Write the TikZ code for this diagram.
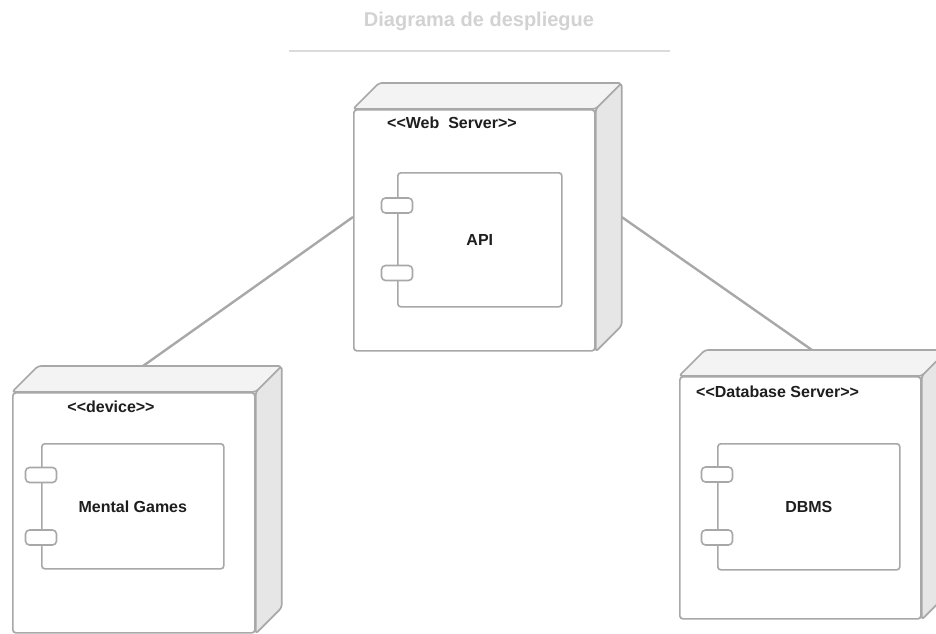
\documentclass[tikz,border=0pt]{standalone}
\usepackage{fontspec}
\setmainfont{Liberation Sans}
\usetikzlibrary{calc,backgrounds}
\definecolor{edgec}{HTML}{A8A8A8}
\definecolor{topf}{HTML}{F3F3F3}
\definecolor{sidef}{HTML}{E6E6E6}
\definecolor{titlec}{HTML}{D2D2D2}
\definecolor{txtc}{HTML}{1E1E1E}
\tikzset{
  front/.style={draw=edgec, line width=1.7pt, fill=white, rounded corners=3pt, inner sep=0pt, anchor=north west},
  face/.style={draw=edgec, line width=1.7pt, rounded corners=3pt, line join=round},
  comp/.style={draw=edgec, line width=1.6pt, fill=white, rounded corners=3pt, inner sep=0pt, anchor=north west,
    font=\fontsize{16}{18}\selectfont\bfseries, text=txtc},
  port/.style={draw=edgec, line width=1.6pt, fill=white, rounded corners=4pt, minimum width=31pt, minimum height=15pt, inner sep=0pt},
  link/.style={draw=edgec, line width=2.4pt},
  stereo/.style={font=\fontsize{16}{18}\selectfont\bfseries, text=txtc, inner sep=0pt},
  titlestyle/.style={font=\fontsize{20}{22}\selectfont\bfseries, text=titlec, inner sep=0pt},
}
\newcommand\depfaces[1]{%
  \draw[face, fill=topf] (#1.north west) -- ($(#1.north west)+(26,-26)$) -- ($(#1.north east)+(26,-26)$) -- (#1.north east) -- cycle;
  \draw[face, fill=sidef] (#1.north east) -- ($(#1.north east)+(26,-26)$) -- ($(#1.south east)+(26,-26)$) -- (#1.south east) -- cycle;
}
\begin{document}
\begin{tikzpicture}[x=1pt,y=-1pt]
  \useasboundingbox (0,0) rectangle (936,633);
  \clip (0,0) rectangle (936,633);
  % title
  \node[titlestyle] (title) at (479,21) {Diagrama de despliegue};
  \coordinate (tl) at (289,51);
  \coordinate (tr) at (670,51);
  \draw[draw=titlec!80, line width=1.2pt] (tl) -- (tr);

  % Web server
  \node[front, minimum width=241pt, minimum height=241pt] (web) at (353,109) {};
  \depfaces{web}
  \node[stereo] (webst) at (452,123) {<{}<Web\ \ Server>{}>};
  \node[comp, minimum width=164pt, minimum height=134pt] (webc) at (397,172) {API};
  \node[port] (webp1) at ($(webc.north west)+(0,33.5)$) {};
  \node[port] (webp2) at ($(webc.north west)+(0,101)$) {};

  % Device
  \node[front, minimum width=242pt, minimum height=240pt] (dev) at (12,392) {};
  \depfaces{dev}
  \node[stereo] (devst) at (111,407) {<{}<device>{}>};
  \node[comp, minimum width=182pt, minimum height=125pt] (devc) at (41,443) {Mental Games};
  \node[port] (devp1) at ($(devc.north west)+(0,32)$) {};
  \node[port] (devp2) at ($(devc.north west)+(0,94.5)$) {};

  % Database server
  \node[front, minimum width=241pt, minimum height=242pt] (db) at (679,376) {};
  \depfaces{db}
  \node[stereo, anchor=west] (dbst) at (696,392) {<{}<Database Server>{}>};
  \node[comp, minimum width=182pt, minimum height=126pt] (dbc) at (717,443) {DBMS};
  \node[port] (dbp1) at ($(dbc.north west)+(0,31.5)$) {};
  \node[port] (dbp2) at ($(dbc.north west)+(0,94.5)$) {};

  % connectors
  \coordinate (devtop) at ($(dev.north west)+(131,-26)$);
  \coordinate (dbtop) at ($(db.north west)+(133,-26)$);
  \coordinate (webl) at ($(web.north west)+(0,108)$);
  \coordinate (webr) at ($(web.north east)+(26,108)$);
  \begin{scope}[on background layer]
    \draw[link] (webl) -- (devtop);
    \draw[link] (webr) -- (dbtop);
  \end{scope}
\end{tikzpicture}
\end{document}
